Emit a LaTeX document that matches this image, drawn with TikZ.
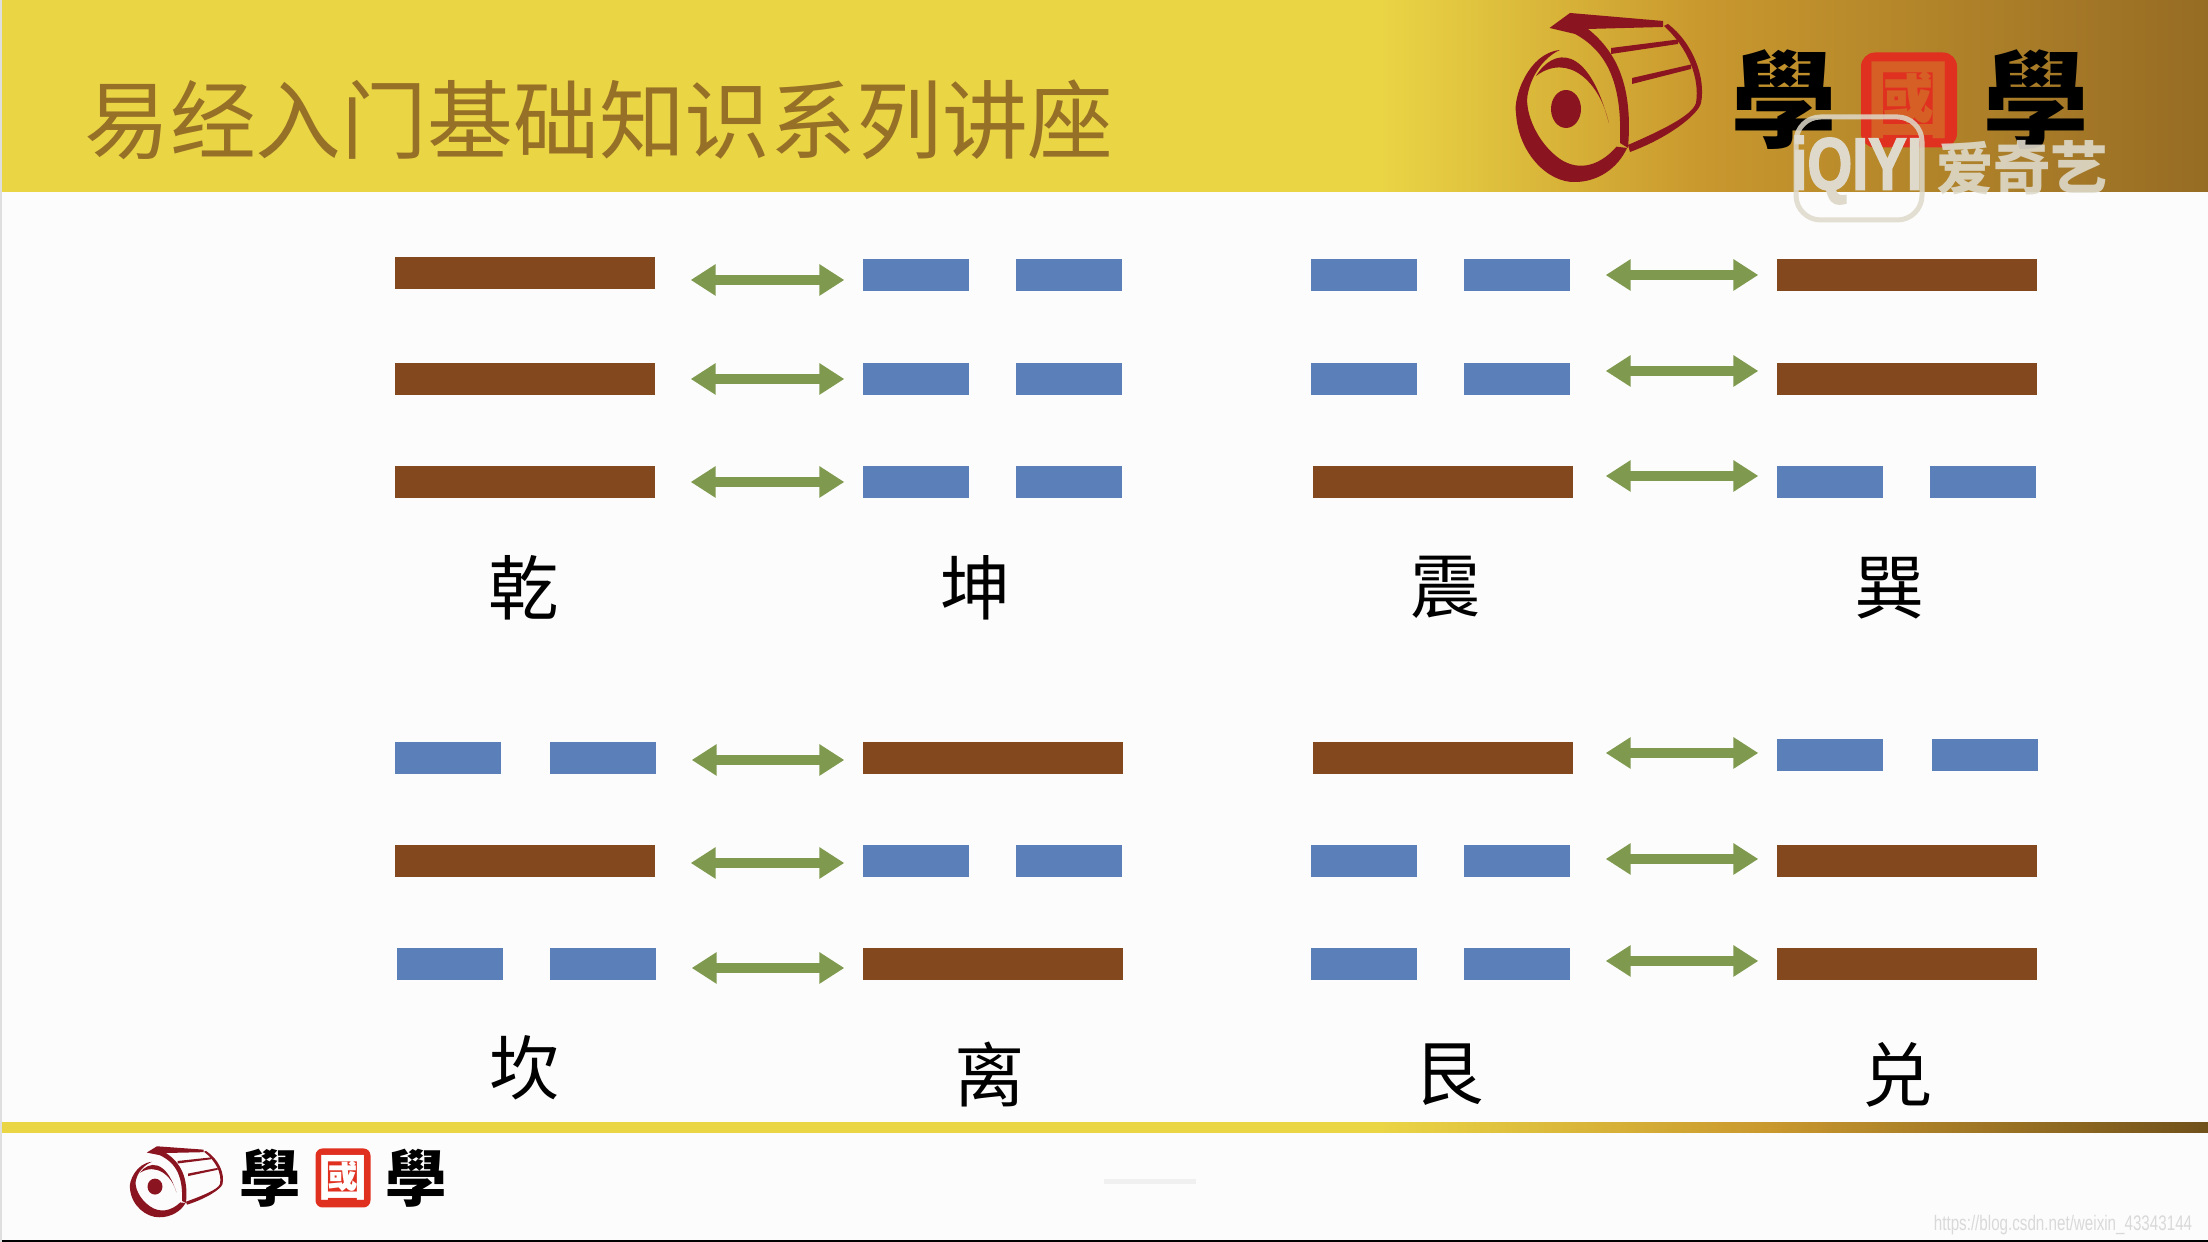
\documentclass[tikz,border=0pt]{standalone}
\usepackage{fontspec}
\setmainfont{Noto Sans CJK SC}
\newfontfamily\logofont{Noto Sans CJK TC}
\newfontfamily\markfont{Liberation Sans}
\newfontfamily\iqfont[FakeBold=2.5]{Liberation Sans}
\usetikzlibrary{arrows.meta, calc}
\definecolor{bandyellow}{RGB}{234,213,69}
\definecolor{bandgold}{RGB}{201,152,46}
\definecolor{bandbrown}{RGB}{150,108,36}
\definecolor{titlebrown}{RGB}{150,112,38}
\definecolor{barbrown}{RGB}{132,72,31}
\definecolor{barblue}{RGB}{91,127,184}
\definecolor{swapgreen}{RGB}{127,154,79}
\definecolor{drumred}{RGB}{138,20,32}
\definecolor{sealred}{RGB}{224,48,32}
\definecolor{markgray}{RGB}{222,217,202}
\tikzset{
  yangbar/.style={fill=barbrown, inner sep=0pt, minimum width=2.6cm, minimum height=0.32cm},
  yinbar/.style={fill=barblue, inner sep=0pt, minimum width=1.06cm, minimum height=0.32cm},
  swapline/.style={line width=0.1cm, swapgreen, {Triangle[length=0.25cm,width=0.3cm]}-{Triangle[length=0.25cm,width=0.3cm]}, shorten <=0.35cm, shorten >=0.18cm},
  guaname/.style={font=\fontsize{20}{24}\selectfont, inner sep=0pt},
  drum/.pic={
    \fill[drumred] (-0.48,0.48) .. controls (-0.80,0.45) and (-0.95,0.0) .. (-0.92,-0.15) .. controls (-0.90,-0.55) and (-0.60,-0.85) .. (-0.33,-0.84) .. controls (-0.10,-0.84) and (0.10,-0.70) .. (0.19,-0.50) -- (0.085,-0.487) .. controls (-0.10,-0.70) and (-0.33,-0.74) .. (-0.52,-0.58) .. controls (-0.74,-0.40) and (-0.84,-0.10) .. (-0.80,0.05) .. controls (-0.76,0.25) and (-0.62,0.42) .. (-0.48,0.48) -- cycle;
    \fill[drumred] (-0.72,0.22) .. controls (-0.55,0.50) and (-0.20,0.55) .. (0.008,-0.25) .. controls (-0.08,0.16) and (-0.40,0.46) .. (-0.72,0.22) -- cycle;
    \fill[drumred] (-0.42,-0.11) ellipse (0.15 and 0.19);
    \fill[drumred] (-0.585,0.70) -- (-0.38,0.85) -- (0.55,0.77) -- (0.55,0.71) -- (-0.20,0.69) .. controls (0.10,0.45) and (0.25,0.10) .. (0.20,-0.50) -- (0.12,-0.45) .. controls (0.14,0.10) and (0.02,0.45) .. (-0.33,0.64) -- cycle;
    \fill[drumred] (0.60,0.74) .. controls (0.85,0.55) and (0.98,0.20) .. (0.93,-0.05) .. controls (0.90,-0.17) and (0.60,-0.40) .. (0.22,-0.54) -- (0.20,-0.47) .. controls (0.52,-0.33) and (0.84,-0.18) .. (0.88,-0.05) .. controls (0.92,0.20) and (0.80,0.50) .. (0.56,0.72) -- cycle;
    \fill[drumred] (0.03,0.50) -- (0.70,0.585) -- (0.70,0.54) -- (0.03,0.44) -- cycle;
    \fill[drumred] (0.24,0.20) -- (0.83,0.335) -- (0.83,0.29) -- (0.24,0.14) -- cycle;
  },
}
\begin{document}
\begin{tikzpicture}
  \useasboundingbox (0,0) rectangle (22.08,12.42);
  \fill[white!99!black] (0,0) rectangle (22.08,12.42);
  \fill[bandyellow] (0,10.5) rectangle (13.81,12.42);
  \shade[left color=bandyellow, right color=bandgold] (13.8,10.5) rectangle (17.01,12.42);
  \shade[left color=bandgold, right color=bandbrown] (17,10.5) rectangle (22.08,12.42);
  \shade[left color=bandyellow, right color=bandyellow] (0,1.09) rectangle (13.81,1.19);
  \shade[left color=bandyellow, right color=bandgold] (13.8,1.09) rectangle (17.71,1.19);
  \shade[left color=bandgold, right color=bandbrown!75!black] (17.7,1.09) rectangle (22.08,1.19);
  \fill[black] (0,0) rectangle (22.08,0.02);
  \fill[gray!25] (0,0) rectangle (0.02,12.42);
  \fill[gray!12] (11.04,0.58) rectangle (11.96,0.63);

  \node[font=\fontsize{24.4}{28}\selectfont, text=titlebrown, inner sep=0pt] (title) at (5.99,11.22) {易经入门基础知识系列讲座};

  \pic at (16.08,11.44) {drum};
  \node[font=\logofont\bfseries\fontsize{30}{34}\selectfont, inner sep=0pt] (xueA) at (17.84,11.42) {學};
  \node[fill=sealred, rounded corners=4pt, minimum width=0.96cm, minimum height=0.95cm, inner sep=0pt, text=sealred!55!bandgold, font=\logofont\bfseries\fontsize{24}{28}\selectfont] (guo) at (19.09,11.42) {國};
  \node[font=\logofont\bfseries\fontsize{30}{34}\selectfont, inner sep=0pt] (xueB) at (20.36,11.42) {學};

  \pic[xscale=0.5, yscale=0.42] at (1.76,0.60) {drum};
  \node[font=\logofont\bfseries\fontsize{17.5}{20}\selectfont, inner sep=0pt] (xueC) at (2.70,0.64) {學};
  \node[fill=sealred, rounded corners=2pt, minimum width=0.55cm, minimum height=0.59cm, inner sep=0pt, text=white, font=\logofont\bfseries\fontsize{14}{16}\selectfont] (guoB) at (3.43,0.64) {國};
  \node[font=\logofont\bfseries\fontsize{17.5}{20}\selectfont, inner sep=0pt] (xueD) at (4.16,0.64) {學};

  \draw[markgray, opacity=0.85, line width=0.05cm, rounded corners=7pt] (17.96,10.22) rectangle (19.22,11.25);
  \node[xscale=0.78, font=\iqfont\bfseries\fontsize{21}{24}\selectfont, text=markgray, inner sep=0pt] (iqiyi) at (18.57,10.72) {iQIYI};
  \node[font=\bfseries\fontsize{16.3}{20}\selectfont, text=markgray, opacity=0.9, inner sep=0pt] (aiqiyi) at (20.22,10.74) {爱奇艺};
  \node[xscale=0.72, font=\markfont\fontsize{6}{7}\selectfont, text=gray!30, inner sep=0pt] (csdn) at (20.63,0.17) {https://blog.csdn.net/weixin\_43343144};

  \node[yangbar] (qianA) at (5.25,9.69) {};
  \node[yangbar] (qianB) at (5.25,8.63) {};
  \node[yangbar] (qianC) at (5.25,7.60) {};
  \node[yinbar] (kunAl) at (9.16,9.67) {};
  \node[yinbar] (kunAr) at (10.69,9.67) {};
  \node[yinbar] (kunBl) at (9.16,8.63) {};
  \node[yinbar] (kunBr) at (10.69,8.63) {};
  \node[yinbar] (kunCl) at (9.16,7.60) {};
  \node[yinbar] (kunCr) at (10.69,7.60) {};

  \node[yinbar] (zhenAl) at (13.64,9.67) {};
  \node[yinbar] (zhenAr) at (15.17,9.67) {};
  \node[yinbar] (zhenBl) at (13.64,8.63) {};
  \node[yinbar] (zhenBr) at (15.17,8.63) {};
  \node[yangbar] (zhenC) at (14.43,7.60) {};
  \node[yangbar] (xunA) at (19.07,9.67) {};
  \node[yangbar] (xunB) at (19.07,8.63) {};
  \node[yinbar] (xunCl) at (18.30,7.60) {};
  \node[yinbar] (xunCr) at (19.83,7.60) {};

  \node[yinbar] (kanAl) at (4.48,4.84) {};
  \node[yinbar] (kanAr) at (6.03,4.84) {};
  \node[yangbar] (kanB) at (5.25,3.81) {};
  \node[yinbar] (kanCl) at (4.50,2.78) {};
  \node[yinbar] (kanCr) at (6.03,2.78) {};
  \node[yangbar] (liA) at (9.93,4.84) {};
  \node[yinbar] (liBl) at (9.16,3.81) {};
  \node[yinbar] (liBr) at (10.69,3.81) {};
  \node[yangbar] (liC) at (9.93,2.78) {};

  \node[yangbar] (genA) at (14.43,4.84) {};
  \node[yinbar] (genBl) at (13.64,3.81) {};
  \node[yinbar] (genBr) at (15.17,3.81) {};
  \node[yinbar] (genCl) at (13.64,2.78) {};
  \node[yinbar] (genCr) at (15.17,2.78) {};
  \node[yinbar] (duiAl) at (18.30,4.87) {};
  \node[yinbar] (duiAr) at (19.85,4.87) {};
  \node[yangbar] (duiB) at (19.07,3.81) {};
  \node[yangbar] (duiC) at (19.07,2.78) {};

  \draw[swapline] ([yshift=-0.07cm]qianA.east) -- ([yshift=-0.05cm]kunAl.west);
  \draw[swapline] (qianB.east) -- (kunBl.west);
  \draw[swapline] (qianC.east) -- (kunCl.west);
  \draw[swapline] (zhenAr.east) -- (xunA.west);
  \draw[swapline] ([yshift=0.08cm]zhenBr.east) -- ([yshift=0.08cm]xunB.west);
  \draw[swapline, shorten <=0.32cm] ([yshift=0.06cm]zhenC.east) -- ([yshift=0.06cm]xunCl.west);
  \draw[swapline] ([yshift=-0.02cm]kanAr.east) -- ([yshift=-0.02cm]liA.west);
  \draw[swapline] ([yshift=-0.02cm]kanB.east) -- ([yshift=-0.02cm]liBl.west);
  \draw[swapline] ([yshift=-0.04cm]kanCr.east) -- ([yshift=-0.04cm]liC.west);
  \draw[swapline, shorten <=0.32cm] ([yshift=0.05cm]genA.east) -- ([yshift=0.02cm]duiAl.west);
  \draw[swapline] ([yshift=0.02cm]genBr.east) -- ([yshift=0.02cm]duiB.west);
  \draw[swapline] ([yshift=0.03cm]genCr.east) -- ([yshift=0.03cm]duiC.west);

  \node[guaname] (qian) at (5.24,6.54) {乾};
  \node[guaname] (kun) at (9.76,6.54) {坤};
  \node[guaname] (zhen) at (14.46,6.55) {震};
  \node[guaname] (xun) at (18.90,6.54) {巽};
  \node[guaname] (kan) at (5.25,1.74) {坎};
  \node[guaname] (li) at (9.90,1.67) {离};
  \node[guaname] (gen) at (14.49,1.67) {艮};
  \node[guaname] (dui) at (18.98,1.67) {兑};
\end{tikzpicture}
\end{document}
